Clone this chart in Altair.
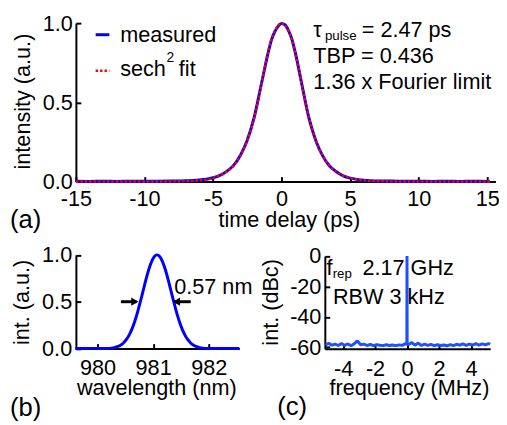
import altair as alt
import pandas as pd

FONT = "Liberation Sans"
FS = 22
SUB = 13.5

# ---------------- data ----------------
# (a) autocorrelation trace
t_ps = [-15, -14, -13, -12, -11, -10, -9, -8, -7.5, -7, -6.5, -6, -5.5, -5, -4.5, -4,
        -3.5, -3, -2.5, -2, -1.5, -1, -0.75, -0.5, -0.25, 0, 0.25, 0.5, 0.75, 1, 1.5,
        2, 2.5, 3, 3.5, 4, 4.5, 5, 5.5, 6, 6.5, 7, 7.5, 8, 9, 10, 11, 12, 13, 14, 15, 15.2]
meas_int = [0.002, 0.001, 0.002, 0.001, 0.002, 0.002, 0.002, 0.003, 0.004, 0.005, 0.007,
            0.010, 0.015, 0.024, 0.039, 0.064, 0.102, 0.166, 0.262, 0.405, 0.605, 0.805,
            0.89, 0.945, 0.98, 0.998, 0.99, 0.955, 0.90, 0.815, 0.605, 0.40, 0.258, 0.162,
            0.098, 0.062, 0.036, 0.022, 0.014, 0.009, 0.006, 0.004, 0.003, 0.003, 0.002,
            0.002, 0.001, 0.002, 0.001, 0.002, 0.001, 0.002]
fit_int = [0, 0, 0, 0, 0, 0.0003, 0.0005, 0.001, 0.002, 0.003, 0.005, 0.008, 0.013, 0.022,
           0.037, 0.063, 0.10, 0.165, 0.26, 0.40, 0.60, 0.81, 0.895, 0.95, 0.985, 1.0,
           0.985, 0.95, 0.895, 0.81, 0.60, 0.40, 0.26, 0.165, 0.10, 0.063, 0.037, 0.022,
           0.013, 0.008, 0.005, 0.003, 0.002, 0.001, 0.0005, 0.0003, 0, 0, 0, 0, 0, 0]

# (b) optical spectrum
wl_nm = [979.6, 980.0, 980.2, 980.3, 980.37, 980.42, 980.47, 980.52, 980.57, 980.62,
         980.67, 980.72, 980.77, 980.82, 980.87, 980.92, 980.97, 981.02, 981.07, 981.12,
         981.17, 981.22, 981.27, 981.32, 981.37, 981.42, 981.47, 981.52, 981.57, 981.62,
         981.67, 981.72, 981.77, 981.84, 981.94, 982.1, 982.55]
spec_int = [0, 0, 0.002, 0.010, 0.023, 0.039, 0.062, 0.097, 0.146, 0.210, 0.292, 0.389,
            0.500, 0.618, 0.735, 0.841, 0.926, 0.981, 1.0, 0.981, 0.926, 0.841, 0.735,
            0.618, 0.500, 0.389, 0.292, 0.210, 0.146, 0.097, 0.062, 0.039, 0.023, 0.010,
            0.002, 0, 0]

# (c) RF spectrum
freq_mhz = [-5.1, -4.9, -4.7, -4.5, -4.3, -4.1, -3.9, -3.7, -3.5, -3.3, -3.1, -2.9, -2.7,
            -2.5, -2.3, -2.1, -1.9, -1.7, -1.5, -1.3, -1.1, -0.9, -0.7, -0.5, -0.3, -0.1,
            -0.01, 0.0, 0.01, 0.1, 0.3, 0.5, 0.7, 0.9, 1.1, 1.3, 1.5, 1.7, 1.9, 2.1, 2.3,
            2.5, 2.7, 2.9, 3.1, 3.3, 3.5, 3.7, 3.9, 4.1, 4.3, 4.5, 4.7, 4.9, 5.1, 5.2]
rf_dbc = [-58.5, -57.3, -58.6, -57.9, -58.8, -57.5, -58.7, -57.8, -58.9, -57.6, -55.8,
          -58.3, -57.9, -58.8, -58.0, -58.9, -58.2, -58.6, -58.9, -58.3, -58.8, -58.5,
          -58.9, -58.4, -58.7, -57.6, -58.0, 0.0, -58.0, -58.2, -56.9, -58.6, -57.2,
          -58.8, -57.9, -58.7, -58.1, -58.9, -58.3, -58.8, -58.5, -59.0, -58.2, -58.9,
          -58.0, -58.6, -57.8, -58.7, -57.9, -58.5, -57.6, -58.6, -57.7, -58.4, -57.5, -58.0]

# tick values
a_xticks = [-15, -10, -5, 0, 5, 10, 15]
a_yticks = [0, 0.5, 1.0]
b_xticks = [980, 981, 982]
b_yticks = [0, 0.5, 1.0]
c_xticks = [-4, -2, 0, 2, 4]
c_yticks = [0, -20, -40, -60]

# annotations (in data units of each panel)
a_text = ["measured", "sech", "fit", "\u03c4", "= 2.47 ps", "TBP = 0.436", "1.36 x Fourier limit"]
a_text_x = [-11.77, -11.77, -7.49, 2.32, 5.85, 2.32, 2.32]
a_text_y = [0.880, 0.669, 0.669, 0.913, 0.913, 0.747, 0.586]
a_sub_text = ["2", "pulse"]
a_sub_x = [-8.40, 3.16]
a_sub_y = [0.752, 0.891]
a_sub_size = [14, SUB]
leg_x1 = [-13.56]
leg_x2 = [-12.56]
leg_meas_y = [0.927]
leg_fit_y = [0.70]

b_text = ["0.57 nm"]
b_text_x = [981.38]
b_text_y = [0.585]
arrow_x1 = [980.42, 981.39]
arrow_x2 = [980.70, 981.676]
arrow_y = [0.5, 0.5]
head_x = [980.67, 981.42]
head_shape = ["triangle-right", "triangle-left"]

c_text = ["f", "2.17 GHz", "RBW 3 kHz"]
c_text_x = [-5.035, -2.783, -4.629]
c_text_y = [-12.3, -12.3, -31.2]
c_sub_text = ["rep"]
c_sub_x = [-4.648]
c_sub_y = [-14.75]

# ---------------- scales (each panel placed by its scale range) ----------------
sxa = alt.Scale(domain=[-15, 15.6], range=[69, 495.4], nice=False, zero=False)
sya = alt.Scale(domain=[0, 1], range=[173, 12], nice=False, zero=False)
sxb = alt.Scale(domain=[979.6, 982.55], range=[68.4, 235.1], nice=False, zero=False)
syb = alt.Scale(domain=[0, 1], range=[342.7, 247.5], nice=False, zero=False)
sxc = alt.Scale(domain=[-5.14, 5.2], range=[322, 490], nice=False, zero=False)
syc = alt.Scale(domain=[-61, 0], range=[343, 248.7], nice=False, zero=False)

H = 417
TICK = {"expr": "-5"}
HYPHEN = "replace(datum.label, '\u2212', '-')"

common = dict(grid=False, labelFlush=False, labelOverlap=False, tickSize=TICK,
              domainColor="black", domainWidth=2, tickColor="black", tickWidth=2,
              labelFont=FONT, labelFontSize=FS, labelColor="black",
              titleFont=FONT, titleFontSize=FS, titleFontWeight="normal", titleColor="black",
              titleBaseline="alphabetic", titleAlign="center")

ax_a_x = alt.Axis(orient="bottom", offset=173 - H, values=a_xticks, labelExpr=HYPHEN,
                  labelPadding=12.5, title="time delay (ps)", titleX=285.5, titleY=45.5, **common)
ax_a_y = alt.Axis(orient="left", offset=-69, values=a_yticks, format=".1f", labelPadding=8.7,
                  title="intensity (a.u.)", titleAngle=270, titleX=-47.3, titleY=91.2, **common)
ax_b_x = alt.Axis(orient="bottom", offset=342.7 - H, values=b_xticks, format="d",
                  labelPadding=14.8, title="wavelength (nm)", titleX=150.8, titleY=47, **common)
ax_b_y = alt.Axis(orient="left", offset=-69, values=b_yticks, format=".1f", labelPadding=9.3,
                  title="int. (a.u.)", titleAngle=270, titleX=-48, titleY=295.3, **common)
ax_c_x = alt.Axis(orient="bottom", offset=343 - H, values=c_xticks, labelExpr=HYPHEN,
                  labelPadding=14.8, title="frequency (MHz)", titleX=407.5, titleY=46.7, **common)
ax_c_y = alt.Axis(orient="left", offset=-322, values=c_yticks, labelExpr=HYPHEN, labelPadding=9,
                  title="int. (dBc)", titleAngle=270, titleX=-47.6, titleY=295.3, **common)

# ---------------- panel (a) ----------------
df_a = pd.DataFrame({"t": t_ps, "meas": meas_int, "fit": fit_int})
a_meas = alt.Chart(df_a).mark_line(color="#0000ff", strokeWidth=3, interpolate="monotone").encode(
    x=alt.X("t:Q", scale=sxa, axis=ax_a_x), y=alt.Y("meas:Q", scale=sya, axis=ax_a_y))
a_fit = alt.Chart(df_a).mark_line(color="#ff0000", strokeWidth=2.5, strokeDash=[2.5, 2],
                                  interpolate="monotone").encode(
    x=alt.X("t:Q", scale=sxa, axis=None), y=alt.Y("fit:Q", scale=sya, axis=None))
leg_m = alt.Chart(pd.DataFrame({"x1": leg_x1, "x2": leg_x2, "y": leg_meas_y})).mark_rule(
    color="#0000ff", strokeWidth=3).encode(
    x=alt.X("x1:Q", scale=sxa, axis=None), x2="x2:Q", y=alt.Y("y:Q", scale=sya, axis=None))
leg_f = alt.Chart(pd.DataFrame({"x1": leg_x1, "x2": leg_x2, "y": leg_fit_y})).mark_rule(
    color="#ff0000", strokeWidth=2.5, strokeDash=[2.5, 2]).encode(
    x=alt.X("x1:Q", scale=sxa, axis=None), x2="x2:Q", y=alt.Y("y:Q", scale=sya, axis=None))
a_txt = alt.Chart(pd.DataFrame({"x": a_text_x, "y": a_text_y, "label": a_text})).mark_text(
    align="left", baseline="alphabetic", font=FONT, fontSize=FS, color="black").encode(
    x=alt.X("x:Q", scale=sxa, axis=None), y=alt.Y("y:Q", scale=sya, axis=None), text="label:N")
a_sub = alt.Chart(pd.DataFrame({"x": a_sub_x, "y": a_sub_y, "label": a_sub_text,
                                "size": a_sub_size})).mark_text(
    align="left", baseline="alphabetic", font=FONT, color="black").encode(
    x=alt.X("x:Q", scale=sxa, axis=None), y=alt.Y("y:Q", scale=sya, axis=None), text="label:N",
    size=alt.Size("size:Q", scale=None))

# ---------------- panel (b) ----------------
df_b = pd.DataFrame({"wl": wl_nm, "s": spec_int})
b_line = alt.Chart(df_b).mark_line(color="#0000ff", strokeWidth=3, interpolate="monotone").encode(
    x=alt.X("wl:Q", scale=sxb, axis=ax_b_x), y=alt.Y("s:Q", scale=syb, axis=ax_b_y))
b_arrows = alt.Chart(pd.DataFrame({"x1": arrow_x1, "x2": arrow_x2, "y": arrow_y})).mark_rule(
    color="black", strokeWidth=3).encode(
    x=alt.X("x1:Q", scale=sxb, axis=None), x2="x2:Q", y=alt.Y("y:Q", scale=syb, axis=None))
b_heads = alt.Chart(pd.DataFrame({"x": head_x, "y": arrow_y, "shape": head_shape})).mark_point(
    filled=True, color="black", opacity=1, size=70).encode(
    x=alt.X("x:Q", scale=sxb, axis=None), y=alt.Y("y:Q", scale=syb, axis=None),
    shape=alt.Shape("shape:N", scale=None))
b_txt = alt.Chart(pd.DataFrame({"x": b_text_x, "y": b_text_y, "label": b_text})).mark_text(
    align="left", baseline="alphabetic", font=FONT, fontSize=FS, color="black").encode(
    x=alt.X("x:Q", scale=sxb, axis=None), y=alt.Y("y:Q", scale=syb, axis=None), text="label:N")

# ---------------- panel (c) ----------------
df_c = pd.DataFrame({"f": freq_mhz, "p": rf_dbc})
c_line = alt.Chart(df_c).mark_line(color="#1f4fff", strokeWidth=3, strokeJoin="bevel").encode(
    x=alt.X("f:Q", scale=sxc, axis=ax_c_x), y=alt.Y("p:Q", scale=syc, axis=ax_c_y))
c_txt = alt.Chart(pd.DataFrame({"x": c_text_x, "y": c_text_y, "label": c_text})).mark_text(
    align="left", baseline="alphabetic", font=FONT, fontSize=FS, color="black").encode(
    x=alt.X("x:Q", scale=sxc, axis=None), y=alt.Y("y:Q", scale=syc, axis=None), text="label:N")
c_sub = alt.Chart(pd.DataFrame({"x": c_sub_x, "y": c_sub_y, "label": c_sub_text})).mark_text(
    align="left", baseline="alphabetic", font=FONT, fontSize=SUB, color="black").encode(
    x=alt.X("x:Q", scale=sxc, axis=None), y=alt.Y("y:Q", scale=syc, axis=None), text="label:N")

# ---------------- panel letters ----------------
one = alt.Data(values=[{}])
def letter(s, px, py):
    return alt.Chart(one).mark_text(align="left", baseline="alphabetic", font=FONT,
                                    fontSize=26, color="black").encode(
        x=alt.value(px), y=alt.value(py), text=alt.value(s))

layers = [c_line, c_txt, c_sub,
          b_line, b_arrows, b_heads, b_txt,
          a_meas, a_fit, leg_m, leg_f, a_txt, a_sub,
          letter("(a)", 2, 220), letter("(b)", 2, 411), letter("(c)", 273.7, 410)]

chart = alt.layer(*layers).resolve_scale(x="independent", y="independent").properties(
    width=499, height=H, padding=0, autosize=alt.AutoSizeParams(type="none"),
    background="white").configure_view(stroke=None)

chart.save("out.html", embed_options={"renderer": "svg", "actions": False})
